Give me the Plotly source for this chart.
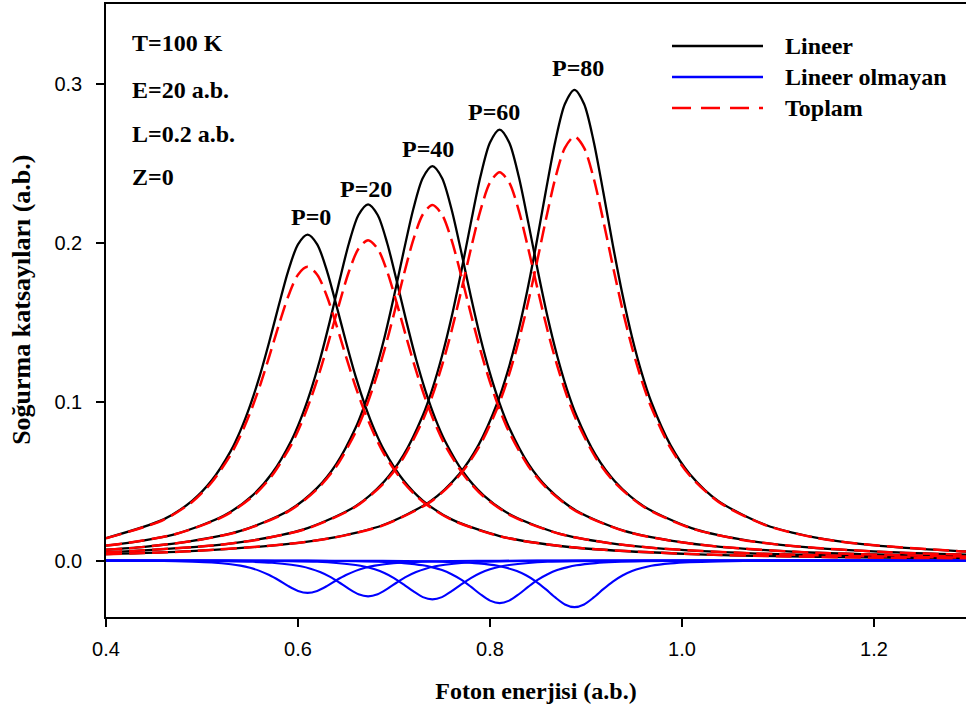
import plotly.graph_objects as go

# ---------------- data ----------------
p_labels = ["P=0", "P=20", "P=40", "P=60", "P=80"]

x_p0 = [0.40, 0.46, 0.49, 0.51, 0.53, 0.54, 0.55, 0.56, 0.57, 0.58, 0.59, 0.60, 0.61,
        0.62, 0.63, 0.64, 0.65, 0.66, 0.67, 0.68, 0.69, 0.71, 0.73, 0.76, 0.81, 0.86,
        0.91, 1.01, 1.11, 1.21, 1.30]
lin_p0 = [0.0141, 0.0259, 0.0377, 0.0503, 0.0690, 0.0817, 0.0973, 0.1158, 0.1374, 0.1605,
          0.1825, 0.1989, 0.2050, 0.1989, 0.1825, 0.1605, 0.1374, 0.1158, 0.0973, 0.0817,
          0.0690, 0.0503, 0.0377, 0.0259, 0.0154, 0.0101, 0.0071, 0.0041, 0.0026, 0.0018, 0.0014]
nl_p0 = [-0.0001, -0.0003, -0.0007, -0.0012, -0.0023, -0.0032, -0.0046, -0.0065, -0.0091,
         -0.0124, -0.0161, -0.0191, -0.0203, -0.0191, -0.0161, -0.0124, -0.0091, -0.0065,
         -0.0046, -0.0032, -0.0023, -0.0012, -0.0007, -0.0003, -0.0001, 0.0, 0.0, 0.0, 0.0, 0.0, 0.0]
tot_p0 = [0.0140, 0.0256, 0.0370, 0.0491, 0.0667, 0.0785, 0.0927, 0.1093, 0.1283, 0.1481,
          0.1664, 0.1798, 0.1847, 0.1798, 0.1664, 0.1481, 0.1283, 0.1093, 0.0927, 0.0785,
          0.0667, 0.0491, 0.0370, 0.0256, 0.0153, 0.0101, 0.0071, 0.0041, 0.0026, 0.0018, 0.0014]

x_p20 = [0.400, 0.423, 0.473, 0.523, 0.553, 0.573, 0.593, 0.603, 0.613, 0.623, 0.633, 0.643,
         0.653, 0.663, 0.673, 0.683, 0.693, 0.703, 0.713, 0.723, 0.733, 0.743, 0.753, 0.773,
         0.793, 0.823, 0.873, 0.923, 0.973, 1.073, 1.173, 1.273, 1.300]
lin_p20 = [0.0094, 0.0111, 0.0168, 0.0283, 0.0412, 0.0549, 0.0754, 0.0893, 0.1063, 0.1266,
           0.1501, 0.1754, 0.1994, 0.2173, 0.2240, 0.2173, 0.1994, 0.1754, 0.1501, 0.1266,
           0.1063, 0.0893, 0.0754, 0.0549, 0.0412, 0.0283, 0.0168, 0.0111, 0.0078, 0.0045,
           0.0029, 0.0020, 0.0018]
nl_p20 = [0.0, 0.0, -0.0001, -0.0004, -0.0008, -0.0014, -0.0026, -0.0036, -0.0051, -0.0072,
          -0.0101, -0.0138, -0.0178, -0.0212, -0.0225, -0.0212, -0.0178, -0.0138, -0.0101,
          -0.0072, -0.0051, -0.0036, -0.0026, -0.0014, -0.0008, -0.0004, -0.0001, 0.0, 0.0,
          0.0, 0.0, 0.0, 0.0]
tot_p20 = [0.0094, 0.0111, 0.0167, 0.0279, 0.0404, 0.0535, 0.0728, 0.0857, 0.1012, 0.1194,
           0.1400, 0.1616, 0.1816, 0.1961, 0.2015, 0.1961, 0.1816, 0.1616, 0.1400, 0.1194,
           0.1012, 0.0857, 0.0728, 0.0535, 0.0404, 0.0279, 0.0167, 0.0111, 0.0078, 0.0045,
           0.0029, 0.0020, 0.0018]

x_p40 = [0.40, 0.44, 0.49, 0.54, 0.59, 0.62, 0.64, 0.66, 0.67, 0.68, 0.69, 0.70, 0.71, 0.72,
         0.73, 0.74, 0.75, 0.76, 0.77, 0.78, 0.79, 0.80, 0.81, 0.82, 0.84, 0.86, 0.89, 0.94,
         0.99, 1.04, 1.14, 1.24, 1.30]
lin_p40 = [0.0068, 0.0086, 0.0123, 0.0186, 0.0313, 0.0457, 0.0608, 0.0835, 0.0989, 0.1177,
           0.1401, 0.1662, 0.1942, 0.2208, 0.2406, 0.2480, 0.2406, 0.2208, 0.1942, 0.1662,
           0.1401, 0.1177, 0.0989, 0.0835, 0.0608, 0.0457, 0.0313, 0.0186, 0.0123, 0.0086,
           0.0049, 0.0032, 0.0025]
nl_p40 = [0.0, 0.0, 0.0, -0.0001, -0.0004, -0.0008, -0.0015, -0.0028, -0.0039, -0.0055,
          -0.0078, -0.0110, -0.0150, -0.0193, -0.0230, -0.0244, -0.0230, -0.0193, -0.0150,
          -0.0110, -0.0078, -0.0055, -0.0039, -0.0028, -0.0015, -0.0008, -0.0004, -0.0001,
          0.0, 0.0, 0.0, 0.0, 0.0]
tot_p40 = [0.0068, 0.0086, 0.0123, 0.0185, 0.0309, 0.0449, 0.0593, 0.0807, 0.0950, 0.1122,
           0.1323, 0.1552, 0.1792, 0.2015, 0.2176, 0.2236, 0.2176, 0.2015, 0.1792, 0.1552,
           0.1323, 0.1122, 0.0950, 0.0807, 0.0593, 0.0449, 0.0309, 0.0185, 0.0123, 0.0086,
           0.0049, 0.0032, 0.0025]

x_p60 = [0.40, 0.51, 0.56, 0.61, 0.66, 0.69, 0.71, 0.73, 0.74, 0.75, 0.76, 0.77, 0.78, 0.79,
         0.80, 0.81, 0.82, 0.83, 0.84, 0.85, 0.86, 0.87, 0.88, 0.89, 0.91, 0.93, 0.96, 1.01,
         1.06, 1.11, 1.21, 1.30]
lin_p60 = [0.0051, 0.0094, 0.0134, 0.0204, 0.0342, 0.0499, 0.0664, 0.0912, 0.1080, 0.1286,
           0.1531, 0.1816, 0.2122, 0.2413, 0.2629, 0.2710, 0.2629, 0.2413, 0.2122, 0.1816,
           0.1531, 0.1286, 0.1080, 0.0912, 0.0664, 0.0499, 0.0342, 0.0204, 0.0134, 0.0094,
           0.0054, 0.0036]
nl_p60 = [0.0, 0.0, -0.0001, -0.0002, -0.0004, -0.0009, -0.0016, -0.0030, -0.0043, -0.0060,
          -0.0086, -0.0120, -0.0164, -0.0212, -0.0252, -0.0268, -0.0252, -0.0212, -0.0164,
          -0.0120, -0.0086, -0.0060, -0.0043, -0.0030, -0.0016, -0.0009, -0.0004, -0.0002,
          -0.0001, 0.0, 0.0, 0.0]
tot_p60 = [0.0051, 0.0094, 0.0133, 0.0202, 0.0338, 0.0490, 0.0648, 0.0882, 0.1037, 0.1226,
           0.1445, 0.1696, 0.1958, 0.2201, 0.2377, 0.2442, 0.2377, 0.2201, 0.1958, 0.1696,
           0.1445, 0.1226, 0.1037, 0.0882, 0.0648, 0.0490, 0.0338, 0.0202, 0.0133, 0.0094,
           0.0054, 0.0036]

x_p80 = [0.400, 0.488, 0.588, 0.638, 0.688, 0.738, 0.768, 0.788, 0.808, 0.818, 0.828, 0.838,
         0.848, 0.858, 0.868, 0.878, 0.888, 0.898, 0.908, 0.918, 0.928, 0.938, 0.948, 0.958,
         0.968, 0.988, 1.008, 1.038, 1.088, 1.138, 1.188, 1.288, 1.300]
lin_p80 = [0.0040, 0.0059, 0.0103, 0.0146, 0.0222, 0.0374, 0.0545, 0.0726, 0.0997, 0.1180,
           0.1404, 0.1673, 0.1983, 0.2318, 0.2636, 0.2871, 0.2960, 0.2871, 0.2636, 0.2318,
           0.1983, 0.1673, 0.1404, 0.1180, 0.0997, 0.0726, 0.0545, 0.0374, 0.0222, 0.0146,
           0.0103, 0.0059, 0.0056]
nl_p80 = [0.0, 0.0, 0.0, -0.0001, -0.0002, -0.0005, -0.0010, -0.0018, -0.0033, -0.0047,
          -0.0066, -0.0094, -0.0132, -0.0180, -0.0232, -0.0276, -0.0293, -0.0276, -0.0232,
          -0.0180, -0.0132, -0.0094, -0.0066, -0.0047, -0.0033, -0.0018, -0.0010, -0.0005,
          -0.0002, -0.0001, 0.0, 0.0, 0.0]
tot_p80 = [0.0040, 0.0059, 0.0103, 0.0145, 0.0220, 0.0369, 0.0535, 0.0708, 0.0964, 0.1133,
           0.1338, 0.1579, 0.1851, 0.2138, 0.2404, 0.2595, 0.2667, 0.2595, 0.2404, 0.2138,
           0.1851, 0.1579, 0.1338, 0.1133, 0.0964, 0.0708, 0.0535, 0.0369, 0.0220, 0.0145,
           0.0103, 0.0059, 0.0056]

# peak label anchor points (data coords)
label_x = [0.6135, 0.6708, 0.7351, 0.8045, 0.8920]
label_y = [0.2163, 0.2336, 0.2586, 0.2823, 0.3096]

param_texts = ["T=100 K", "E=20 a.b.", "L=0.2 a.b.", "Z=0"]
param_y = [0.3252, 0.2962, 0.2685, 0.2409]

legend_names = ["Lineer", "Lineer olmayan", "Toplam"]

x_ticks = [0.4, 0.6, 0.8, 1.0, 1.2]
y_ticks = [0.0, 0.1, 0.2, 0.3]

xs = [x_p0, x_p20, x_p40, x_p60, x_p80]
lins = [lin_p0, lin_p20, lin_p40, lin_p60, lin_p80]
nls = [nl_p0, nl_p20, nl_p40, nl_p60, nl_p80]
tots = [tot_p0, tot_p20, tot_p40, tot_p60, tot_p80]

# ---------------- figure ----------------
fig = go.Figure()
SERIF = "Liberation Serif, Times New Roman, serif"
SANS = "Liberation Sans, Arial, sans-serif"
TXT = 24

for i in range(5):
    fig.add_trace(go.Scatter(x=xs[i], y=lins[i], mode="lines", name=legend_names[0],
                             line=dict(color="black", width=2.3, shape="spline", smoothing=0.8),
                             showlegend=False, legendgroup="lin"))
for i in range(5):
    fig.add_trace(go.Scatter(x=xs[i], y=nls[i], mode="lines", name=legend_names[1],
                             line=dict(color="#0000ff", width=2.1, shape="spline", smoothing=0.8),
                             showlegend=False, legendgroup="nl"))
for i in range(5):
    fig.add_trace(go.Scatter(x=xs[i], y=tots[i], mode="lines", name=legend_names[2],
                             line=dict(color="#ff0000", width=2.5, dash="16px,7px",
                                       shape="spline", smoothing=0.8),
                             showlegend=False, legendgroup="tot"))

annotations = []
for t, lx, ly in zip(p_labels, label_x, label_y):
    annotations.append(dict(x=lx, y=ly, xref="x", yref="y", text="<b>%s</b>" % t,
                            showarrow=False, xanchor="center", yanchor="middle",
                            font=dict(family=SERIF, size=TXT, color="black")))
for t, py in zip(param_texts, param_y):
    annotations.append(dict(x=0.4255, y=py, xref="x", yref="y", text="<b>%s</b>" % t,
                            showarrow=False, xanchor="left", yanchor="middle",
                            font=dict(family=SERIF, size=TXT, color="black")))

# manual legend (long sample lines like the reference)
W, H = 966, 715
L_, T_, R_, B_ = 106, 4, 0, 98
pw, ph = W - L_ - R_, H - T_ - B_
def px2paper(px, py):
    return (px - L_) / pw, (H - B_ - py) / ph

leg_rows = [46, 77, 108]
leg_styles = [dict(color="black", width=2.5), dict(color="#0000ff", width=2.5),
              dict(color="#ff0000", width=2.6, dash="19px,10px")]
shapes = []
for name, row, st in zip(legend_names, leg_rows, leg_styles):
    x0p, yp = px2paper(672, row)
    x1p, _ = px2paper(763, row)
    shapes.append(dict(type="line", xref="paper", yref="paper", x0=x0p, x1=x1p,
                       y0=yp, y1=yp, line=st))
    tx, _ = px2paper(783, row)
    annotations.append(dict(x=tx, y=yp, xref="paper", yref="paper", text="<b>%s</b>" % name,
                            showarrow=False, xanchor="left", yanchor="middle",
                            font=dict(family=SERIF, size=TXT, color="black")))

# y-axis title as a rotated annotation to match its position in the reference
annotations.append(dict(x=-0.099, y=(H - B_ - 300) / ph, xref="paper", yref="paper",
                        text="<b>Soğurma katsayıları (a.b.)</b>", textangle=-90,
                        showarrow=False, xanchor="center", yanchor="middle",
                        font=dict(family=SERIF, size=26, color="black")))

fig.update_layout(
    width=W, height=H,
    margin=dict(l=L_, r=R_, t=T_, b=B_, pad=0),
    paper_bgcolor="white", plot_bgcolor="white",
    showlegend=False,
    annotations=annotations, shapes=shapes,
    xaxis=dict(range=[0.4, 0.4 + 860 / 960], tickvals=x_ticks, tickformat=".1f",
               showgrid=False, zeroline=False, showline=True, linecolor="black", linewidth=1.5,
               mirror=True, ticks="outside", ticklen=8, tickwidth=1.5, tickcolor="black",
               tickfont=dict(family=SANS, size=20, color="black"), ticklabelstandoff=5,
               title=dict(text="<b>Foton enerjisi (a.b.)</b>", standoff=23,
                          font=dict(family=SERIF, size=TXT, color="black"))),
    yaxis=dict(range=[-0.0355, 0.350], tickvals=y_ticks, tickformat=".1f",
               showgrid=False, zeroline=False, showline=True, linecolor="black", linewidth=1.5,
               ticks="outside", ticklen=8, tickwidth=1.5, tickcolor="black",
               tickfont=dict(family=SANS, size=20, color="black"), ticklabelstandoff=10),
)

fig.write_html("out.html")
